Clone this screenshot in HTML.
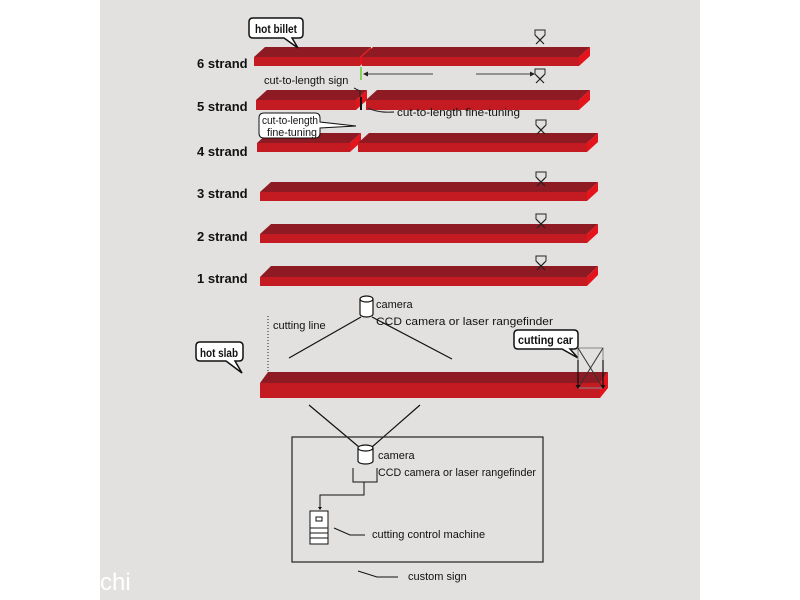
<!DOCTYPE html>
<html><head><meta charset="utf-8"><style>
html,body{margin:0;padding:0;background:#fff}
svg{display:block}
text{font-family:"Liberation Sans",sans-serif;fill:#111}
.l{font-size:13px;font-weight:bold}
.s{font-size:11px}
.t{fill:#8e1b24}.f{fill:#c41a22}.r{fill:#e4141c}
</style></head><body>
<svg width="800" height="600" viewBox="0 0 800 600" xmlns="http://www.w3.org/2000/svg">
<rect x="100" y="0" width="600" height="600" fill="#e2e1df"/>
<defs>
<g id="cut"><path d="M-5,0 h10 v5 l-5,5 l-5,-5z" fill="none" stroke="#222" stroke-width="1"/><path d="M-4,6 l8,8 M4,6 l-8,8" stroke="#222" stroke-width="1.2"/></g>
</defs>
<g>
<polygon class="t" points="265,47 371,47 360,57 254,57"/><rect class="f" x="254" y="57" width="106" height="9"/><polygon class="r" points="360,57 371,47 371,56 360,66"/>
<polygon class="t" points="373,47 590,47 579,57 362,57"/><rect class="f" x="362" y="57" width="217" height="9"/><polygon class="r" points="579,57 590,47 590,56 579,66"/>
<polygon class="t" points="267,90 367,90 356,100 256,100"/><rect class="f" x="256" y="100" width="100" height="10"/><polygon class="r" points="356,100 367,90 367,100 356,110"/>
<polygon class="t" points="377,90 590,90 579,100 366,100"/><rect class="f" x="366" y="100" width="213" height="10"/><polygon class="r" points="579,100 590,90 590,100 579,110"/>
<polygon class="t" points="268,133 361,133 350,143 257,143"/><rect class="f" x="257" y="143" width="93" height="9"/><polygon class="r" points="350,143 361,133 361,142 350,152"/>
<polygon class="t" points="369,133 598,133 587,143 358,143"/><rect class="f" x="358" y="143" width="229" height="9"/><polygon class="r" points="587,143 598,133 598,142 587,152"/>
<polygon class="t" points="271,182 598,182 587,192 260,192"/><rect class="f" x="260" y="192" width="327" height="9"/><polygon class="r" points="587,192 598,182 598,191 587,201"/>
<polygon class="t" points="271,224 598,224 587,234 260,234"/><rect class="f" x="260" y="234" width="327" height="9"/><polygon class="r" points="587,234 598,224 598,233 587,243"/>
<polygon class="t" points="271,266 598,266 587,277 260,277"/><rect class="f" x="260" y="277" width="327" height="9"/><polygon class="r" points="587,277 598,266 598,275 587,286"/>
<polygon class="t" points="268,372 608,372 600,383 260,383"/><rect class="f" x="260" y="383" width="340" height="15"/><polygon class="r" points="600,383 608,372 608,388 600,398"/>
</g>
<text class="l" x="197" y="68">6 strand</text>
<text class="l" x="197" y="111">5 strand</text>
<text class="l" x="197" y="156">4 strand</text>
<text class="l" x="197" y="198">3 strand</text>
<text class="l" x="197" y="241">2 strand</text>
<text class="l" x="197" y="283">1 strand</text>
<use href="#cut" x="540" y="30"/><use href="#cut" x="540" y="69"/><use href="#cut" x="541" y="120"/>
<use href="#cut" x="541" y="172"/><use href="#cut" x="541" y="214"/><use href="#cut" x="541" y="256"/>
<path d="M253,18 h46 q4,0 4,4 v12 q0,4 -4,4 h-7 l6,10 l-14,-10 h-31 q-4,0 -4,-4 v-12 q0,-4 4,-4z" fill="#fff" stroke="#111" stroke-width="1.5"/>
<text x="255" y="33" style="font-size:12px;font-weight:bold" textLength="42" lengthAdjust="spacingAndGlyphs">hot billet</text>
<line x1="361" y1="67" x2="361" y2="80" stroke="#6c3" stroke-width="1.5"/>
<line x1="364" y1="74" x2="433" y2="74" stroke="#444" stroke-width="1"/>
<path d="M363,74 l5,-2.5 v5z" fill="#222"/>
<line x1="476" y1="74" x2="532" y2="74" stroke="#444" stroke-width="1"/>
<path d="M535,74 l-5,-2.5 v5z" fill="#222"/>
<text class="s" x="264" y="84">cut-to-length sign</text>
<path d="M354,88 l6,3 v6" fill="none" stroke="#222" stroke-width="1"/>
<line x1="361" y1="97" x2="361" y2="110" stroke="#111" stroke-width="2"/>
<path d="M368,108 q10,5 26,4" fill="none" stroke="#333" stroke-width="1.2"/>
<text class="s" x="397" y="116" textLength="123" lengthAdjust="spacingAndGlyphs">cut-to-length fine-tuning</text>
<path d="M264,113 h51 q5,0 5,5 v4 l36,4 l-36,2 v5 q0,5 -5,5 h-51 q-5,0 -5,-5 v-15 q0,-5 5,-5z" fill="#fff" stroke="#111" stroke-width="1"/>
<text class="s" x="262" y="124" textLength="56" lengthAdjust="spacingAndGlyphs">cut-to-length</text>
<text class="s" x="267" y="136" textLength="50" lengthAdjust="spacingAndGlyphs">fine-tuning</text>
<path d="M360,299 v15 a6.5,3 0 0 0 13,0 v-15" fill="#fff" stroke="#111" stroke-width="1.2"/>
<ellipse cx="366.5" cy="299" rx="6.5" ry="3" fill="#fff" stroke="#111" stroke-width="1.2"/>
<line x1="361" y1="317" x2="289" y2="358" stroke="#111" stroke-width="1.2"/>
<line x1="372" y1="317" x2="452" y2="359" stroke="#111" stroke-width="1.2"/>
<text class="s" x="376" y="308">camera</text>
<text class="s" x="376" y="325" textLength="177" lengthAdjust="spacingAndGlyphs">CCD camera or laser rangefinder</text>
<line x1="268" y1="316" x2="268" y2="373" stroke="#222" stroke-width="1" stroke-dasharray="1,2"/>
<text class="s" x="273" y="329">cutting line</text>
<path d="M200,342 h39 q4,0 4,4 v11 q0,4 -4,4 h-4 l7,12 l-16,-12 h-26 q-4,0 -4,-4 v-11 q0,-4 4,-4z" fill="#fff" stroke="#111" stroke-width="1.5"/>
<text x="200" y="357" style="font-size:11.5px;font-weight:bold" textLength="38" lengthAdjust="spacingAndGlyphs">hot slab</text>
<path d="M518,330 h56 q4,0 4,4 v11 q0,4 -4,4 h-4 l8,9 l-16,-9 h-44 q-4,0 -4,-4 v-11 q0,-4 4,-4z" fill="#fff" stroke="#111" stroke-width="1.5"/>
<text x="518" y="344" style="font-size:11.5px;font-weight:bold" textLength="55" lengthAdjust="spacingAndGlyphs">cutting car</text>
<rect x="578" y="348" width="25" height="40" fill="none" stroke="#888" stroke-width="1"/>
<path d="M578,348 L603,388 M603,348 L578,388" stroke="#333" stroke-width="1"/>
<line x1="578" y1="360" x2="578" y2="388" stroke="#111" stroke-width="1.2"/>
<line x1="603" y1="360" x2="603" y2="388" stroke="#111" stroke-width="1.2"/>
<path d="M575.5,385 h5 l-2.5,4z M600.5,385 h5 l-2.5,4z" fill="#111"/>
<line x1="309" y1="405" x2="359" y2="447" stroke="#111" stroke-width="1.2"/>
<line x1="420" y1="405" x2="372" y2="447" stroke="#111" stroke-width="1.2"/>
<rect x="292" y="437" width="251" height="125" fill="none" stroke="#222" stroke-width="1.2"/>
<path d="M358,448 v13 a7.5,3 0 0 0 15,0 v-13" fill="#fff" stroke="#111" stroke-width="1.2"/>
<ellipse cx="365.5" cy="448" rx="7.5" ry="3" fill="#fff" stroke="#111" stroke-width="1.2"/>
<text class="s" x="378" y="459">camera</text>
<text class="s" x="378" y="476" textLength="158" lengthAdjust="spacingAndGlyphs">CCD camera or laser rangefinder</text>
<path d="M353,468 v14 h24 v-14 M364,482 v13 h-44 v12" fill="none" stroke="#111" stroke-width="1"/>
<path d="M318,507 h4 l-2,3z" fill="#111"/>
<rect x="310" y="511" width="18" height="33" fill="#fff" stroke="#111" stroke-width="1"/>
<rect x="316" y="517" width="6" height="4" fill="none" stroke="#111" stroke-width="1"/>
<path d="M310,528 h18 M310,533 h18 M310,538 h18" stroke="#111" stroke-width="1"/>
<path d="M334,528 l16,7 h15" fill="none" stroke="#111" stroke-width="1"/>
<text class="s" x="372" y="538">cutting control machine</text>
<path d="M358,571 l19,6 h21" fill="none" stroke="#111" stroke-width="1"/>
<text class="s" x="408" y="580">custom sign</text>
<text x="100" y="590" style="font-size:24px;fill:#fff">chi</text>
</svg>
</body></html>
